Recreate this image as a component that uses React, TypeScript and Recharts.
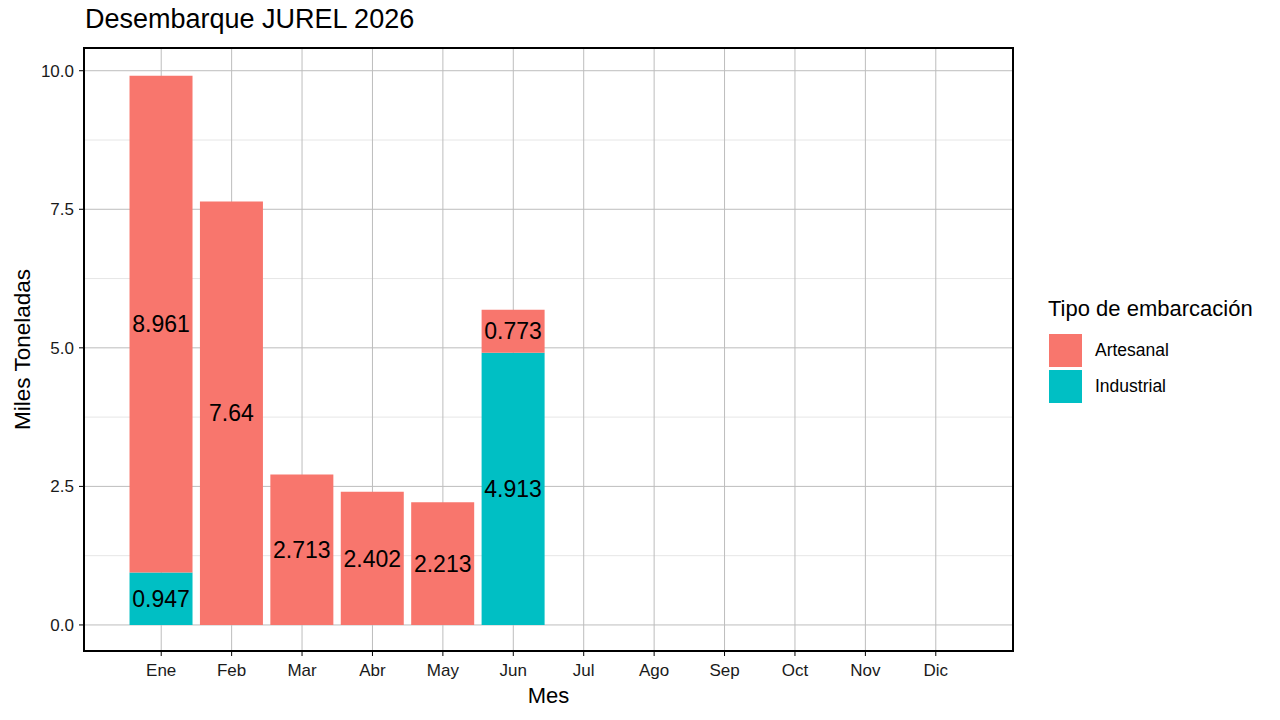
import { Bar, BarChart, CartesianGrid, LabelList, XAxis, YAxis } from 'recharts';

const months = ['Ene', 'Feb', 'Mar', 'Abr', 'May', 'Jun', 'Jul', 'Ago', 'Sep', 'Oct', 'Nov', 'Dic'];
const artesanal = [8.961, 7.64, 2.713, 2.402, 2.213, 0.773, null, null, null, null, null, null];
const industrial = [0.947, null, null, null, null, 4.913, null, null, null, null, null, null];
const yTicks = [0, 2.5, 5, 7.5, 10];
const yMinor = [1.25, 3.75, 6.25, 8.75];

const series = [
  { key: 'Industrial', color: '#00BFC4', values: industrial },
  { key: 'Artesanal', color: '#F8766D', values: artesanal },
];
const legendOrder = ['Artesanal', 'Industrial'];

const data = months.map((mes, i) => ({
  mes,
  Artesanal: artesanal[i],
  Industrial: industrial[i],
}));

const FONT = '"Liberation Sans", Arial, Helvetica, sans-serif';

export default function App() {
  return (
    <div style={{ position: 'absolute', left: 0, top: 0, width: 1280, height: 720, background: '#fff', fontFamily: FONT }}>
      <div style={{ position: 'absolute', left: 85, top: 4, fontSize: 27, color: '#000' }}>
        Desembarque JUREL 2026
      </div>

      <BarChart
        width={1280}
        height={720}
        data={data}
        margin={{ top: 48, right: 267, left: 0, bottom: 0 }}
        barCategoryGap="5%"
        style={{ fontFamily: FONT }}
      >
        <CartesianGrid horizontalValues={yMinor} vertical={false} stroke="#e6e6e6" strokeWidth={1} />
        <CartesianGrid stroke="#bdbdbd" strokeWidth={1} />
        <XAxis
          dataKey="mes"
          height={69}
          padding={{ left: 42, right: 42 }}
          axisLine={false}
          tickLine={{ stroke: '#000' }}
          tickSize={5}
          tickMargin={8}
          tick={{ fill: '#1a1a1a', fontSize: 17 }}
          interval={0}
          label={{
            content: ({ viewBox }: any) => (
              <text x={viewBox.x + viewBox.width / 2} y={703} textAnchor="middle" fontSize={22} fill="#000">
                Mes
              </text>
            ),
          }}
        />
        <YAxis
          width={84}
          domain={[-0.47, 10.41]}
          ticks={yTicks}
          allowDataOverflow
          axisLine={false}
          tickLine={{ stroke: '#000' }}
          tickSize={5}
          tickMargin={5}
          tick={{ fill: '#1a1a1a', fontSize: 17 }}
          tickFormatter={(v: number) => v.toFixed(1)}
          label={{
            content: ({ viewBox }: any) => {
              const cy = viewBox.y + viewBox.height / 2;
              return (
                <text x={30} y={cy} textAnchor="middle" fontSize={22.5} fill="#000" transform={`rotate(-90, 30, ${cy})`}>
                  Miles Toneladas
                </text>
              );
            },
          }}
        />
        {series.map((s) => (
          <Bar key={s.key} dataKey={s.key} stackId="a" fill={s.color} isAnimationActive={false}>
            <LabelList dataKey={s.key} position="center" fill="#000" fontSize={23} />
          </Bar>
        ))}
      </BarChart>

      <div
        style={{
          position: 'absolute',
          left: 83,
          top: 47,
          width: 931,
          height: 605,
          border: '2px solid #000',
          boxSizing: 'border-box',
          pointerEvents: 'none',
        }}
      />

      <div style={{ position: 'absolute', left: 1048, top: 296 }}>
        <div style={{ fontSize: 22, color: '#000', marginBottom: 10, whiteSpace: 'nowrap' }}>Tipo de embarcación</div>
        {legendOrder.map((name) => {
          const s = series.find((x) => x.key === name)!;
          return (
            <div key={name} style={{ display: 'flex', alignItems: 'center', height: 36 }}>
              <div style={{ width: 33, height: 33, background: s.color, marginLeft: 1 }} />
              <span style={{ marginLeft: 13, fontSize: 17.5, color: '#000' }}>{name}</span>
            </div>
          );
        })}
      </div>
    </div>
  );
}
